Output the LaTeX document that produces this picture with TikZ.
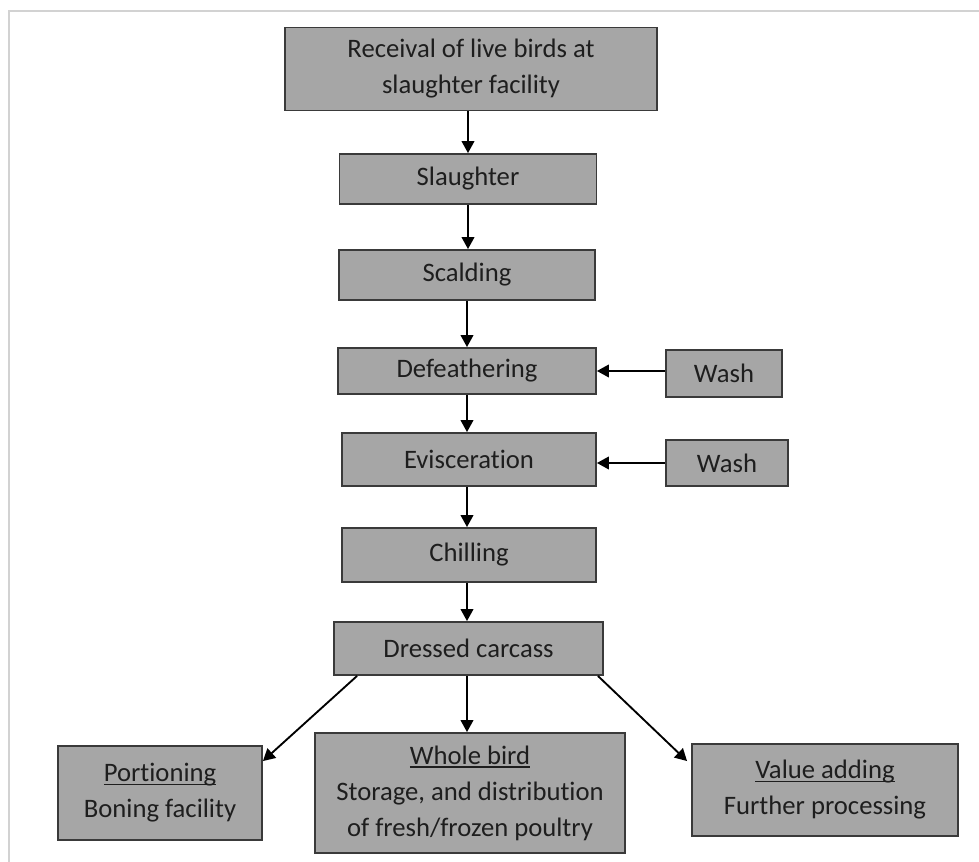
\documentclass[tikz,border=0pt]{standalone}
\usepackage{fontspec}
\setmainfont{Carlito}[Ligatures=NoCommon]
\usepackage{xcolor}
\usepackage{tikz}
\usetikzlibrary{arrows.meta,positioning}
\definecolor{boxfill}{HTML}{A6A6A6}
\definecolor{boxline}{HTML}{3A3A3A}
\definecolor{boxtext}{HTML}{1E1E1E}
\definecolor{framegray}{HTML}{D2D2D2}
\newcommand{\ulword}[1]{\setbox0\hbox{#1}\rlap{\rule[-2.6pt]{\wd0}{1pt}}\box0}
\tikzset{
  stagebox/.style={rectangle,draw=boxline,line width=1.4pt,fill=boxfill,
    text=boxtext,inner sep=0pt,align=center,
    font=\fontsize{20}{27}\selectfont},
  flowarrow/.style={-{Triangle[length=9pt,width=9.5pt]},line width=1.4pt,black},
}

\begin{document}
\begin{tikzpicture}[x=0.75pt,y=-0.75pt]
  \useasboundingbox (0,0) rectangle (979,862);
  \draw[framegray,line width=1.2pt] (979,11) -- (9,11) -- (9,862);
  \node[stagebox,minimum width=279pt,minimum height=62.25pt] (nRecv) at (471,69) {Receival of live birds at\\slaughter facility};
  \node[stagebox,minimum width=192.75pt,minimum height=37.5pt] (nSlaughter) at (468,179) {Slaughter};
  \node[stagebox,minimum width=192pt,minimum height=37.5pt] (nScald) at (467,275) {Scalding};
  \node[stagebox,minimum width=193.5pt,minimum height=34.5pt] (nDefeather) at (467,371) {Defeathering};
  \node[stagebox,minimum width=87pt,minimum height=35.25pt] (nWashA) at (724,373.5) {Wash};
  \node[stagebox,minimum width=190.5pt,minimum height=39.75pt] (nEvisc) at (469,459.5) {Evisceration};
  \node[stagebox,minimum width=91.5pt,minimum height=34.5pt] (nWashB) at (727,463) {Wash};
  \node[stagebox,minimum width=190.5pt,minimum height=40.5pt] (nChill) at (469,555) {Chilling};
  \node[stagebox,minimum width=201.75pt,minimum height=39.75pt] (nCarcass) at (468.5,648.5) {Dressed carcass};
  \node[stagebox,minimum width=153pt,minimum height=70.5pt] (nPortion) at (160,793) {\ulword{Portioning}\\Boning facility};
  \node[stagebox,minimum width=232.5pt,minimum height=90pt] (nWhole) at (470,793) {\ulword{Whole bird}\\Storage, and distribution\\of fresh/frozen poultry};
  \node[stagebox,minimum width=199.5pt,minimum height=69pt] (nValue) at (825,790) {\ulword{Value adding}\\Further processing};
  \draw[flowarrow] (nRecv.south -| nSlaughter.north) -- (nSlaughter.north);
  \draw[flowarrow] (nSlaughter.south) -- (nSlaughter.south |- nScald.north);
  \draw[flowarrow] (nScald.south) -- (nScald.south |- nDefeather.north);
  \draw[flowarrow] (nDefeather.south) -- (nDefeather.south |- nEvisc.north);
  \draw[flowarrow] (nEvisc.south -| nDefeather.south) -- (nDefeather.south |- nChill.north);
  \draw[flowarrow] (nChill.south -| nDefeather.south) -- (nDefeather.south |- nCarcass.north);
  \draw[flowarrow] (nWashA.west |- 0,371) -- (nDefeather.east |- 0,371);
  \draw[flowarrow] (nWashB.west |- 0,463) -- (nEvisc.east |- 0,463);
  \draw[flowarrow] ([xshift=18pt]nCarcass.south west) -- ([yshift=-12pt]nPortion.north east);
  \draw[flowarrow] (nCarcass.south -| nDefeather.south) -- (nDefeather.south |- nWhole.north);
  \draw[flowarrow] ([xshift=-4.5pt]nCarcass.south east) -- ([xshift=-3pt,yshift=-13.5pt]nValue.north west);
\end{tikzpicture}
\end{document}
